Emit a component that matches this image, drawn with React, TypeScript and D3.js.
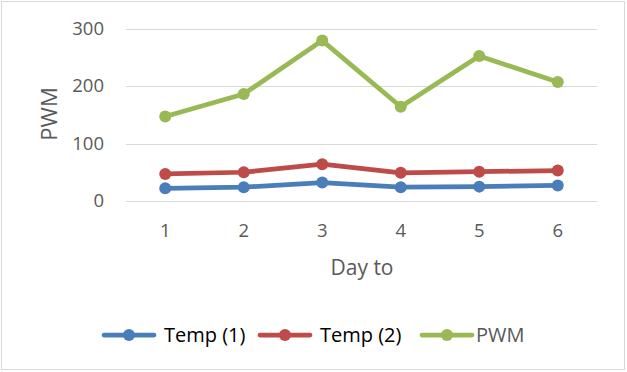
import React, { useEffect, useRef } from 'react';
import * as d3 from 'd3';

// Chart data
const days = ['1', '2', '3', '4', '5', '6'];
const temp1 = [22, 24, 32, 24, 25, 27];
const temp2 = [47, 50, 64, 49, 51, 53];
const pwm = [147, 186, 279, 164, 252, 207];
const yTicks = [0, 100, 200, 300];

const seriesNames = ['Temp (1)', 'Temp (2)', 'PWM'];
const seriesColors = ['#4a7ebb', '#be4b48', '#98b954'];
const legendTextColors = ['#000', '#000', '#595959'];

const W = 627;
const H = 372;
const FONT = '"Open Sans", sans-serif';

const App = () => {
    const svgRef = useRef<SVGSVGElement>(null);

    useEffect(() => {
        document.body.style.margin = '0';
        const svg = d3.select(svgRef.current);
        svg.selectAll('*').remove();

        // chart area border
        svg.append('rect')
            .attr('x', 1.5).attr('y', 1.5)
            .attr('width', 623).attr('height', 368)
            .attr('fill', '#fff')
            .attr('stroke', '#d9d9d9');

        const x = d3.scaleBand().domain(days).range([126, 597]);
        const y = d3.scaleLinear().domain([0, 300]).range([201, 28.5]);

        // gridlines
        svg.append('g')
            .selectAll('line')
            .data(yTicks)
            .enter()
            .append('line')
            .attr('x1', 126).attr('x2', 597)
            .attr('y1', d => Math.round(y(d)) + 0.5)
            .attr('y2', d => Math.round(y(d)) + 0.5)
            .attr('stroke', '#d9d9d9')
            .attr('stroke-width', 1);

        // y tick labels
        svg.append('g')
            .selectAll('text')
            .data(yTicks)
            .enter()
            .append('text')
            .attr('x', 104)
            .attr('y', d => y(d))
            .attr('dy', '0.35em')
            .attr('text-anchor', 'end')
            .attr('font-family', FONT)
            .attr('font-size', 18.5)
            .attr('fill', '#595959')
            .text(d => d);

        // x tick labels
        svg.append('g')
            .selectAll('text')
            .data(days)
            .enter()
            .append('text')
            .attr('x', d => (x(d) as number) + x.bandwidth() / 2)
            .attr('y', 231)
            .attr('dy', '0.35em')
            .attr('text-anchor', 'middle')
            .attr('font-family', FONT)
            .attr('font-size', 18.5)
            .attr('fill', '#595959')
            .text(d => d);

        // axis titles
        svg.append('text')
            .attr('x', 362).attr('y', 268)
            .attr('dy', '0.35em')
            .attr('text-anchor', 'middle')
            .attr('font-family', FONT)
            .attr('font-size', 21)
            .attr('fill', '#595959')
            .text('Day to');

        svg.append('text')
            .attr('transform', 'translate(49,114) rotate(-90)')
            .attr('dy', '0.35em')
            .attr('text-anchor', 'middle')
            .attr('font-family', FONT)
            .attr('font-size', 22)
            .attr('fill', '#595959')
            .text('PWM');

        // series
        const allSeries = [temp1, temp2, pwm];
        const line = d3.line<number>()
            .x((d, i) => (x(days[i]) as number) + x.bandwidth() / 2)
            .y(d => y(d));

        allSeries.forEach((vals, si) => {
            const g = svg.append('g');
            g.append('path')
                .datum(vals)
                .attr('fill', 'none')
                .attr('stroke', seriesColors[si])
                .attr('stroke-width', 4.75)
                .attr('stroke-linejoin', 'round')
                .attr('d', line);
            g.selectAll('circle')
                .data(vals)
                .enter()
                .append('circle')
                .attr('cx', (d, i) => (x(days[i]) as number) + x.bandwidth() / 2)
                .attr('cy', d => y(d))
                .attr('r', 6)
                .attr('fill', seriesColors[si]);
        });

        // legend
        const legendX = [102, 258, 420];
        const legendY = 335;
        seriesNames.forEach((name, i) => {
            const g = svg.append('g').attr('transform', `translate(${legendX[i]},${legendY})`);
            g.append('line')
                .attr('x1', 2).attr('x2', 52)
                .attr('y1', 0).attr('y2', 0)
                .attr('stroke', seriesColors[i])
                .attr('stroke-width', 4.75)
                .attr('stroke-linecap', 'round');
            g.append('circle')
                .attr('cx', 27).attr('cy', 0)
                .attr('r', 6)
                .attr('fill', seriesColors[i]);
            g.append('text')
                .attr('x', i === 2 ? 56 : 62)
                .attr('y', 0)
                .attr('dy', '0.35em')
                .attr('font-family', FONT)
                .attr('font-size', 20)
                .attr('fill', legendTextColors[i])
                .text(name);
        });
    }, []);

    return (
        <div style={{ position: 'absolute', left: 0, top: 0, width: W, height: H }}>
            <svg ref={svgRef} width={W} height={H}></svg>
        </div>
    );
};

export default App;
